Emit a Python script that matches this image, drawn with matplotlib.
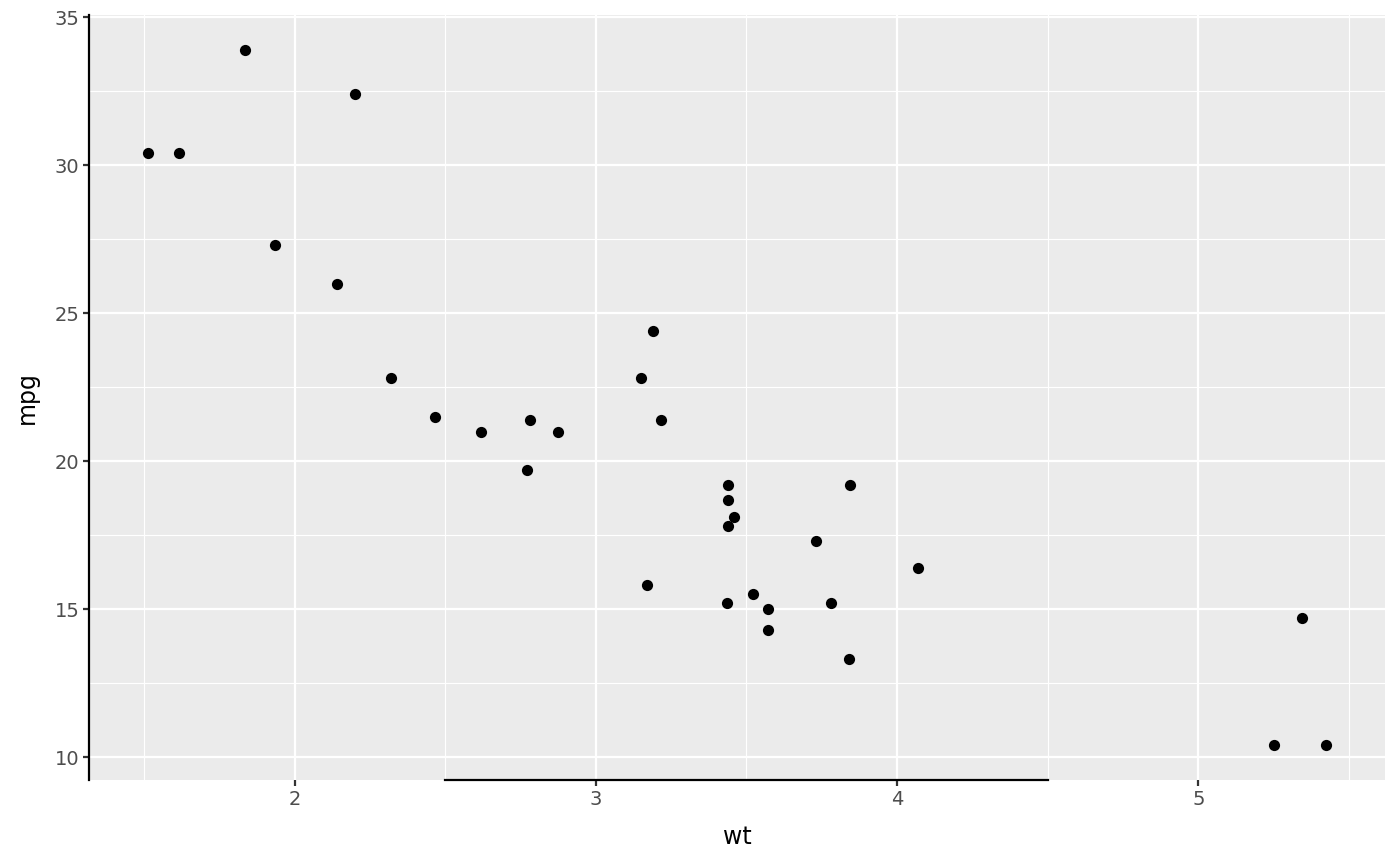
import numpy as np
import matplotlib.pyplot as plt

# mtcars: peso (wt) contra consumo (mpg)
wt = [2.620, 2.875, 2.320, 3.215, 3.440, 3.460, 3.570, 3.190, 3.150, 3.440, 3.440,
      4.070, 3.730, 3.780, 5.250, 5.424, 5.345, 2.200, 1.615, 1.835, 2.465, 3.520,
      3.435, 3.840, 3.845, 1.935, 2.140, 1.513, 3.170, 2.770, 3.570, 2.780]
mpg = [21.0, 21.0, 22.8, 21.4, 18.7, 18.1, 14.3, 24.4, 22.8, 19.2, 17.8, 16.4, 17.3,
       15.2, 10.4, 10.4, 14.7, 32.4, 30.4, 33.9, 21.5, 15.5, 15.2, 13.3, 19.2, 27.3,
       26.0, 30.4, 15.8, 19.7, 15.0, 21.4]
x_ticks = [2, 3, 4, 5]
y_ticks = [10, 15, 20, 25, 30, 35]

fig = plt.figure(figsize=(14, 8.66), dpi=100)
ax = fig.add_axes([89/1400, 86/866, (1385-89)/1400, (780-15)/866])
ax.set_facecolor('#EBEBEB')

# limites con 5% de expansion como ggplot
xr = max(wt) - min(wt)
yr = max(mpg) - min(mpg)
ax.set_xlim(min(wt) - 0.05*xr, max(wt) + 0.05*xr)
ax.set_ylim(min(mpg) - 0.05*yr, max(mpg) + 0.05*yr)

ax.set_xticks(x_ticks)
ax.set_yticks(y_ticks)
ax.set_xticks(np.arange(1.5, 6, 1.0), minor=True)
ax.set_yticks(np.arange(12.5, 35, 5.0), minor=True)
ax.grid(which='major', color='white', linewidth=1.6)
ax.grid(which='minor', color='white', linewidth=0.8)
ax.set_axisbelow(True)

ax.scatter(wt, mpg, s=65, color='black', zorder=3, linewidths=0)

for side in ['top', 'right']:
    ax.spines[side].set_visible(False)
ax.spines['left'].set_color('black')
ax.spines['left'].set_linewidth(1.6)
ax.spines['bottom'].set_color('black')
ax.spines['bottom'].set_linewidth(1.6)
ax.spines['bottom'].set_bounds(2.5, 4.5)

ax.tick_params(which='major', length=4, width=1.6, color='#333333',
               labelcolor='#4D4D4D', labelsize=14, pad=3)
ax.tick_params(which='minor', length=0)

ax.set_xlabel('wt', fontsize=17, color='black', labelpad=12)
ax.set_ylabel('mpg', fontsize=17, color='black', labelpad=11)

fig.savefig('out.png', dpi=100)
